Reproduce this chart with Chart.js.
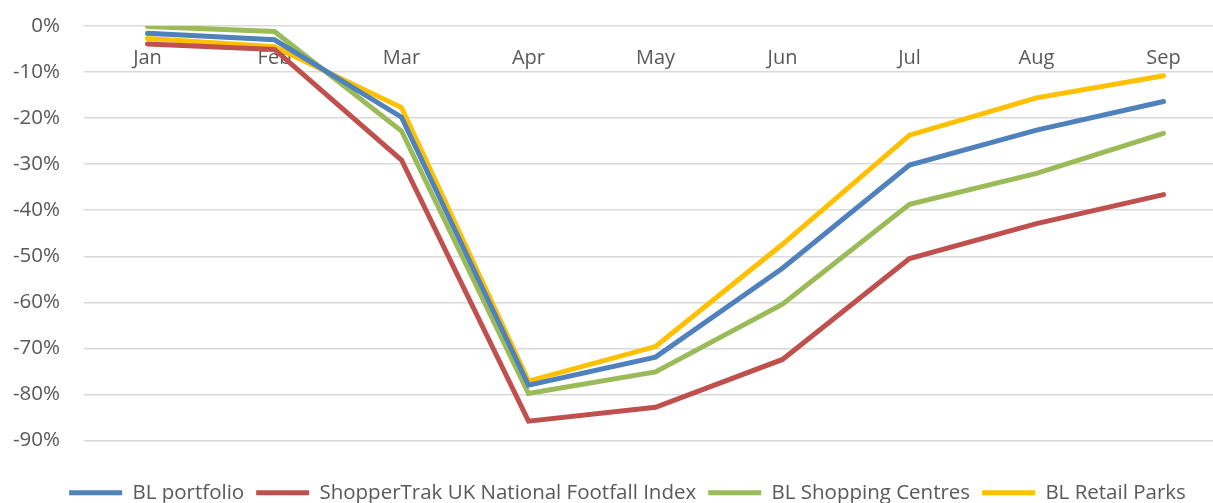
<!DOCTYPE html>
<html>
<head>
<meta charset="utf-8">
<script src="https://cdn.jsdelivr.net/npm/chart.js@4/dist/chart.umd.min.js"></script>
<style>
  html, body { margin: 0; padding: 0; background: #fff; overflow: hidden; }
  #wrap { width: 1227px; height: 513px; position: relative; }
</style>
</head>
<body>
<div id="wrap"><canvas id="chart"></canvas></div>
<script>
// footfall vs last year, % change
const months = ['Jan', 'Feb', 'Mar', 'Apr', 'May', 'Jun', 'Jul', 'Aug', 'Sep'];
const blPortfolio = [-1.6, -3.0, -19.8, -78.0, -71.9, -52.6, -30.2, -22.6, -16.4];
const shopperTrak = [-3.9, -5.1, -29.1, -85.8, -82.8, -72.4, -50.5, -42.9, -36.6];
const blShoppingCentres = [-0.1, -1.2, -22.8, -79.8, -75.1, -60.4, -38.7, -32.0, -23.3];
const blRetailParks = [-2.7, -4.5, -17.7, -77.1, -69.6, -47.4, -23.7, -15.6, -10.8];
const yTicks = [0, -10, -20, -30, -40, -50, -60, -70, -80, -90];

const fontFam = '"Open Sans", "DejaVu Sans", sans-serif';
const txt = '#595959';

function series(label, data, color) {
    return {
        label: label,
        data: data,
        borderColor: color,
        backgroundColor: color,
        borderWidth: 5,
        borderCapStyle: 'round',
        pointRadius: 0,
        pointHoverRadius: 0,
        tension: 0,
        fill: false
    };
}

// nudge the legend row a bit to the right, like the original
const legendShift = {
    id: 'legendShift',
    afterLayout(chart) {
        chart.legend.left += 14;
        chart.legend.right += 14;
    }
};

new Chart(document.getElementById('chart').getContext('2d'), {
    type: 'line',
    data: {
        labels: months,
        datasets: [
            series('BL portfolio', blPortfolio, '#4F81BD'),
            series('ShopperTrak UK National Footfall Index', shopperTrak, '#C0504D'),
            series('BL Shopping Centres', blShoppingCentres, '#9BBB59'),
            series('BL Retail Parks', blRetailParks, '#FFC000')
        ]
    },
    options: {
        responsive: true,
        maintainAspectRatio: false,
        animation: false,
        layout: { padding: { top: 26, right: 0, left: 0, bottom: 0 } },
        plugins: {
            tooltip: { enabled: false },
            legend: {
                position: 'bottom',
                // empty title only used as a spacer above the legend row
                title: { display: true, text: '', font: { size: 10, lineHeight: 1 }, padding: { top: 20, bottom: 0 } },
                labels: {
                    usePointStyle: true,
                    pointStyle: 'line',
                    pointStyleWidth: 53,
                    padding: 12,
                    color: txt,
                    font: { family: fontFam, size: 20.5 }
                }
            }
        },
        scales: {
            x: {
                position: { y: 0 },
                offset: true,
                grid: { display: false, drawTicks: false },
                border: { display: false },
                ticks: {
                    color: txt,
                    padding: 20,
                    maxRotation: 0,
                    font: { family: fontFam, size: 20 }
                }
            },
            y: {
                min: -90,
                max: 0,
                afterFit: s => { s.width = 84; s.paddingTop = 12; s.paddingBottom = 12; },
                afterBuildTicks: s => { s.ticks = yTicks.map(v => ({ value: v })); },
                grid: { color: '#d9d9d9', lineWidth: 1.5, drawTicks: false },
                border: { display: false },
                ticks: {
                    color: txt,
                    padding: 24,
                    font: { family: fontFam, size: 20.5 },
                    callback: v => v + '%'
                }
            }
        }
    },
    plugins: [legendShift]
});
</script>
</body>
</html>
